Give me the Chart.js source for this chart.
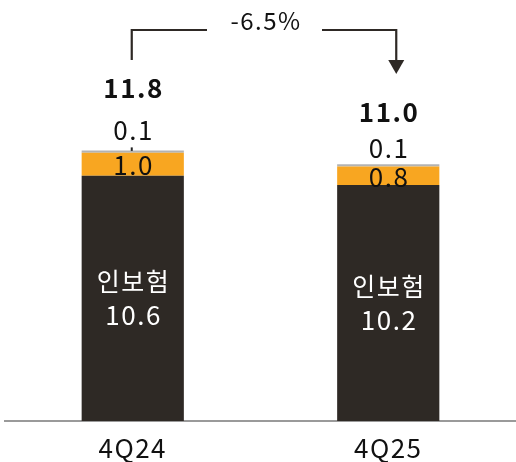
<!DOCTYPE html>
<html>
<head>
<meta charset="utf-8">
<script src="https://cdn.jsdelivr.net/npm/chart.js@4/dist/chart.umd.min.js"></script>
<style>
html,body{margin:0;padding:0;background:#fff;}
#wrap{width:516px;height:462px;position:relative;}
</style>
</head>
<body>
<div id="wrap"><canvas id="c" width="516" height="462"></canvas></div>
<script>
const categories = ['4Q24', '4Q25'];
const mainValues = [10.6, 10.2];
const midValues = [1.0, 0.8];
const topValues = [0.1, 0.1];
const totals = [11.8, 11.0];
const mainName = '인보험';
const changeLabel = '-6.5%';

const DARK = '#2e2925';
const ORANGE = '#f8a621';
const GRAY = '#b3b3b3';
const FONT = '"Noto Sans CJK KR", "Noto Sans", sans-serif';
const SPACING = '1.5px';

const spacingPlugin = {
  id: 'spacing',
  beforeDraw(chart) { chart.ctx.letterSpacing = SPACING; }
};

const labelPlugin = {
  id: 'labels',
  afterDatasetsDraw(chart) {
    const ctx = chart.ctx;
    const y = chart.scales.y;
    const m0 = chart.getDatasetMeta(0), m1 = chart.getDatasetMeta(1), m2 = chart.getDatasetMeta(2);
    const totalOff = [60, 55];
    const topOff = [20.5, 16.5];
    ctx.save();
    ctx.letterSpacing = SPACING;
    ctx.textAlign = 'center';
    ctx.textBaseline = 'middle';
    for (let i = 0; i < categories.length; i++) {
      const d = m0.data[i], o = m1.data[i], g = m2.data[i];
      const cx = d.x + 0.8;
      const cy = (d.y + d.base) / 2;
      ctx.fillStyle = '#ffffff';
      ctx.font = '25px ' + FONT;
      ctx.fillText(mainName, cx, cy - 17);
      ctx.font = '26px ' + FONT;
      ctx.fillText(mainValues[i].toFixed(1), cx, cy + 17);
      ctx.fillStyle = '#111111';
      ctx.fillText(midValues[i].toFixed(1), cx, (o.y + o.base) / 2 + 1);
      ctx.fillText(topValues[i].toFixed(1), cx, g.y - topOff[i]);
      ctx.font = 'bold 26px ' + FONT;
      ctx.fillText(totals[i].toFixed(1), cx, y.getPixelForValue(totals[i]) - totalOff[i] + 0.5);
    }
    // leader for first small label
    const g0 = m2.data[0];
    ctx.strokeStyle = '#222';
    ctx.lineWidth = 2;
    ctx.beginPath();
    ctx.moveTo(g0.x - 1, g0.y - 3);
    ctx.lineTo(g0.x - 1, g0.y + 0.5);
    ctx.stroke();

    // change bracket
    const xL = m0.data[0].x - 1;
    const xR = m0.data[1].x + 8;
    const top = chart.chartArea.top + 30;
    const mid = (xL + xR) / 2;
    ctx.strokeStyle = DARK;
    ctx.lineWidth = 2.2;
    ctx.beginPath();
    ctx.moveTo(xL, top + 30);
    ctx.lineTo(xL, top);
    ctx.lineTo(mid - 57, top);
    ctx.moveTo(mid + 58, top);
    ctx.lineTo(xR, top);
    ctx.lineTo(xR, top + 32);
    ctx.stroke();
    ctx.fillStyle = DARK;
    ctx.beginPath();
    ctx.moveTo(xR - 8, top + 30);
    ctx.lineTo(xR + 8, top + 30);
    ctx.lineTo(xR, top + 44);
    ctx.closePath();
    ctx.fill();
    ctx.fillStyle = '#111111';
    ctx.font = '24px ' + FONT;
    ctx.fillText(changeLabel, mid + 2, top - 9);
    ctx.restore();
  }
};

new Chart(document.getElementById('c'), {
  type: 'bar',
  data: {
    labels: categories,
    datasets: [
      { data: mainValues, backgroundColor: DARK },
      { data: midValues, backgroundColor: ORANGE },
      { data: topValues, backgroundColor: GRAY }
    ]
  },
  options: {
    responsive: false,
    animation: false,
    layout: { padding: { left: 5, right: -3, top: 0, bottom: -4.9 } },
    datasets: { bar: { barPercentage: 0.4, categoryPercentage: 1.0, borderWidth: 0 } },
    plugins: { legend: { display: false }, tooltip: { enabled: false } },
    scales: {
      x: {
        stacked: true,
        grid: { display: false },
        border: { display: true, color: '#9a9a9a', width: 2 },
        ticks: { color: '#111', font: { family: FONT, size: 26 }, padding: 3.3 }
      },
      y: {
        stacked: true,
        display: false,
        min: 0,
        max: 18.2
      }
    }
  },
  plugins: [spacingPlugin, labelPlugin]
});
</script>
</body>
</html>
